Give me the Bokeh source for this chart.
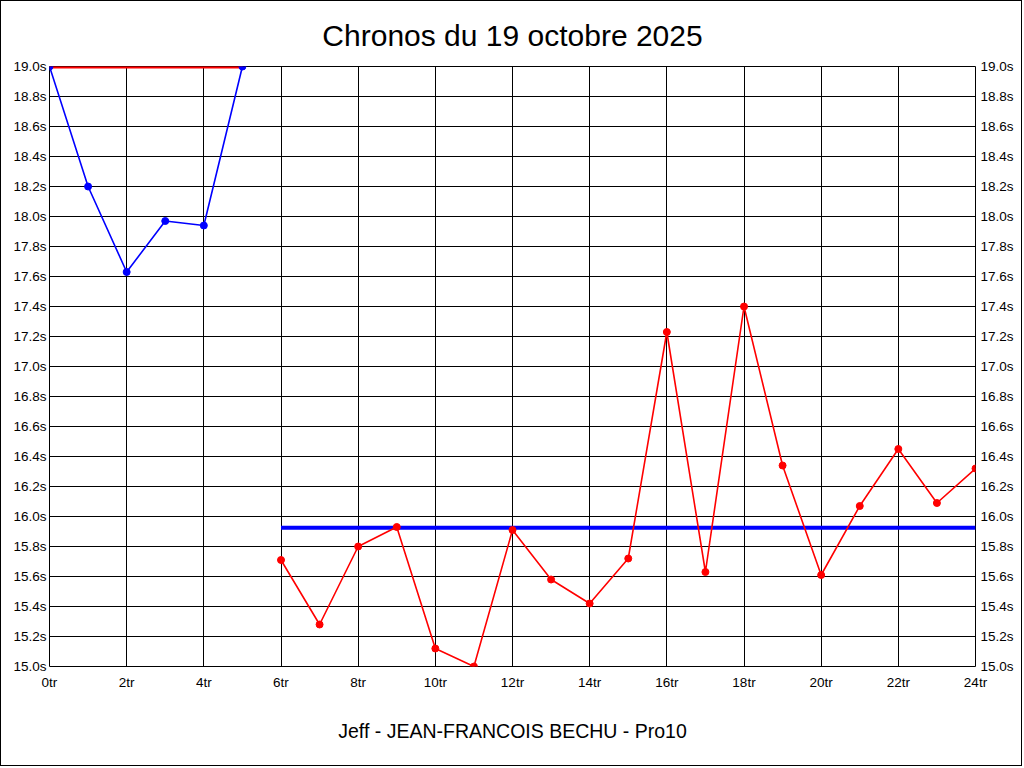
from bokeh.plotting import figure
from bokeh.models import (FixedTicker, LinearAxis, PrintfTickFormatter, Title, Range1d)
from bokeh.embed import file_html
from bokeh.resources import INLINE

title_text = "Chronos du 19 octobre 2025"
subtitle_text = "Jeff - JEAN-FRANCOIS BECHU - Pro10"

# Lap series 1 (blue)
blue_laps = [0, 1, 2, 3, 4, 5]
blue_times = [19.0, 18.2, 17.63, 17.97, 17.94, 19.0]
# Reference line over blue laps (red)
red_ref_laps = [0, 5]
red_ref_value = 19.0

# Lap series 2 (red)
red_laps = [6, 7, 8, 9, 10, 11, 12, 13, 14, 15, 16, 17, 18, 19, 20, 21, 22, 23, 24]
red_times = [15.71, 15.28, 15.80, 15.93, 15.12, 15.00, 15.91, 15.58, 15.42, 15.72,
             17.23, 15.63, 17.40, 16.34, 15.61, 16.07, 16.45, 16.09, 16.32]
# Mean line over red laps (blue)
blue_ref_laps = [6, 24]
blue_ref_value = 15.925

x_ticks = [0, 2, 4, 6, 8, 10, 12, 14, 16, 18, 20, 22, 24]
y_ticks = [15.0, 15.2, 15.4, 15.6, 15.8, 16.0, 16.2, 16.4, 16.6, 16.8, 17.0,
           17.2, 17.4, 17.6, 17.8, 18.0, 18.2, 18.4, 18.6, 18.8, 19.0]

FONT = "Liberation Sans"

p = figure(width=1022, height=766, output_backend="svg", toolbar_location=None,
           x_range=Range1d(0, 24), y_range=Range1d(15.0, 19.0),
           min_border_left=48, min_border_right=48, min_border_top=65, min_border_bottom=101,
           background_fill_color="white", border_fill_color="white",
           x_axis_location="below", y_axis_location="left")
p.styles = {"border": "1px solid black"}
p.outline_line_color = "black"
p.outline_line_width = 1

# Titles
p.title = Title(text=title_text, align="center", text_font=FONT, text_font_size="30px",
                text_font_style="normal", text_color="black", standoff=29)
p.add_layout(Title(text=subtitle_text, align="center", text_font=FONT, text_font_size="19.5px",
                   text_font_style="normal", text_color="black", standoff=50), "below")

# Grid
p.xgrid.ticker = FixedTicker(ticks=x_ticks)
p.ygrid.ticker = FixedTicker(ticks=y_ticks)
for g in (p.xgrid, p.ygrid):
    g.grid_line_color = "black"
    g.grid_line_alpha = 1.0
    g.grid_line_width = 1

# Axes
p.xaxis.ticker = FixedTicker(ticks=x_ticks)
p.xaxis.formatter = PrintfTickFormatter(format="%dtr")
p.yaxis.ticker = FixedTicker(ticks=y_ticks)
p.yaxis.formatter = PrintfTickFormatter(format="%.1fs")

right_axis = LinearAxis(ticker=FixedTicker(ticks=y_ticks),
                        formatter=PrintfTickFormatter(format="%.1fs"))
p.add_layout(right_axis, "right")

for ax in p.xaxis + p.yaxis:
    ax.axis_line_color = None
    ax.major_tick_line_color = None
    ax.minor_tick_line_color = None
    ax.major_tick_out = 0
    ax.major_tick_in = 0
    ax.major_label_text_font = FONT
    ax.major_label_text_font_size = "13.5px"
    ax.major_label_text_color = "black"
p.xaxis.major_label_standoff = 8
p.yaxis[0].major_label_standoff = 3
right_axis.major_label_standoff = 5

# Reference lines
p.line(red_ref_laps, [red_ref_value] * len(red_ref_laps), line_color="#FF0000", line_width=4)
p.line(blue_ref_laps, [blue_ref_value] * len(blue_ref_laps), line_color="#0000FF", line_width=4)

# Series
p.line(blue_laps, blue_times, line_color="#0000FF", line_width=1.6)
p.scatter(blue_laps, blue_times, size=7, color="#0000FF")
p.line(red_laps, red_times, line_color="#FF0000", line_width=1.6)
p.scatter(red_laps, red_times, size=7, color="#FF0000")

open("out.html", "w").write(file_html(p, INLINE))
